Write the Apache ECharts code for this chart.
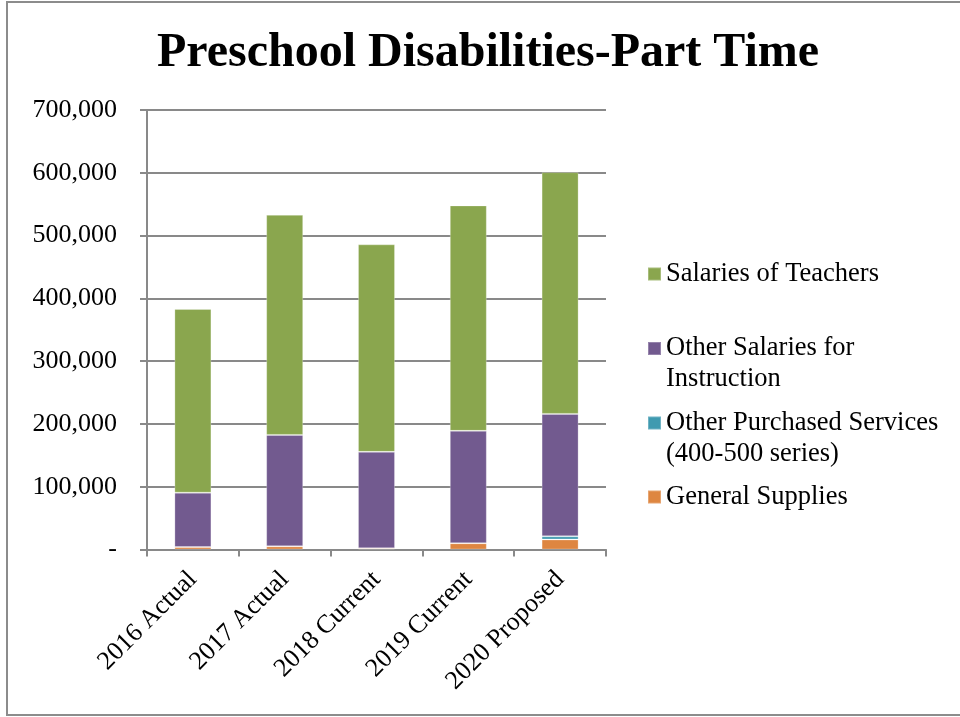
<!DOCTYPE html>
<html>
<head>
<meta charset="utf-8">
<script src="https://cdn.jsdelivr.net/npm/echarts@6/dist/echarts.min.js"></script>
<style>
html,body{margin:0;padding:0;background:#fff;}
#chart{width:960px;height:717px;}
</style>
</head>
<body>
<div id="chart"></div>
<script>
const categories = ['2016 Actual', '2017 Actual', '2018 Current', '2019 Current', '2020 Proposed'];
const generalSupplies = [4000, 5000, 2000, 10000, 16000];
const otherPurchasedServices = [0, 0, 0, 0, 5000];
const otherSalaries = [86500, 177500, 153500, 179000, 195000];
const teacherSalaries = [292500, 350500, 330500, 359000, 385000];
const yTicks = [0, 100000, 200000, 300000, 400000, 500000, 600000, 700000];

const FONT = 'Liberation Serif';
const GRID = '#898989';
const colors = {
  teachers: '#8AA64E',
  other: '#725A8F',
  services: '#3F9AB0',
  supplies: '#DE8641'
};

const chart = echarts.init(document.getElementById('chart'), null, {renderer: 'canvas'});

function legendFor(name, top) {
  return {
    data: [name],
    orient: 'vertical',
    left: 647,
    top: top,
    padding: 0,
    itemWidth: 13,
    itemHeight: 13,
    itemGap: 0,
    icon: 'rect',
    selectedMode: false,
    formatter: function (n) {
      if (n === 'Other Salaries for Instruction') return '\nOther Salaries for\nInstruction';
      if (n === 'Other Purchased Services (400-500 series)') return '\nOther Purchased Services\n(400-500 series)';
      return n;
    },
    textStyle: {
      fontFamily: FONT,
      fontSize: 26.5,
      color: '#000',
      lineHeight: 31
    }
  };
}

const barBase = {
  type: 'bar',
  stack: 'total',
  barWidth: 37,
  itemStyle: {borderColor: 'rgba(255,255,255,0.25)', borderWidth: 1}
};

const option = {
  animation: false,
  backgroundColor: '#fff',
  title: {
    text: 'Preschool Disabilities-Part Time',
    left: 483,
    textAlign: 'center',
    top: 25,
    textStyle: {fontFamily: FONT, fontSize: 48, fontWeight: 'bold', color: '#000'}
  },
  graphic: [{
    type: 'rect',
    shape: {x: 7, y: 2, width: 960, height: 713},
    style: {fill: 'none', stroke: '#8c8c8c', lineWidth: 2},
    silent: true,
    z: -1
  }],
  legend: [
    legendFor('Salaries of Teachers', 258.5),
    legendFor('Other Salaries for Instruction', 302),
    legendFor('Other Purchased Services (400-500 series)', 376.5),
    legendFor('General Supplies', 481.5)
  ],
  grid: {left: 147, right: 354, top: 110, bottom: 167.5, containLabel: false},
  xAxis: {
    type: 'category',
    data: categories,
    axisLine: {show: true, lineStyle: {color: GRID, width: 2}},
    axisTick: {show: true, alignWithLabel: false, length: 7, lineStyle: {color: GRID, width: 2}},
    axisLabel: {
      rotate: 45,
      interval: 0,
      margin: 26,
      fontFamily: FONT,
      fontSize: 26,
      color: '#000'
    },
    splitLine: {show: false}
  },
  yAxis: {
    type: 'value',
    min: yTicks[0],
    max: yTicks[yTicks.length - 1],
    interval: yTicks[1] - yTicks[0],
    axisLine: {show: true, lineStyle: {color: GRID, width: 2}},
    axisTick: {show: true, length: 7, lineStyle: {color: GRID, width: 2}},
    axisLabel: {
      margin: 30,
      fontFamily: FONT,
      fontSize: 26,
      color: '#000',
      formatter: function (v) {
        if (v === 0) return '-';
        return v.toLocaleString('en-US');
      }
    },
    splitLine: {show: true, lineStyle: {color: GRID, width: 2}}
  },
  series: [
    Object.assign({}, barBase, {name: 'General Supplies', data: generalSupplies, itemStyle: Object.assign({}, barBase.itemStyle, {color: colors.supplies})}),
    Object.assign({}, barBase, {name: 'Other Purchased Services (400-500 series)', data: otherPurchasedServices, itemStyle: Object.assign({}, barBase.itemStyle, {color: colors.services})}),
    Object.assign({}, barBase, {name: 'Other Salaries for Instruction', data: otherSalaries, itemStyle: Object.assign({}, barBase.itemStyle, {color: colors.other})}),
    Object.assign({}, barBase, {name: 'Salaries of Teachers', data: teacherSalaries, itemStyle: Object.assign({}, barBase.itemStyle, {color: colors.teachers})})
  ]
};

chart.setOption(option);
</script>
</body>
</html>
